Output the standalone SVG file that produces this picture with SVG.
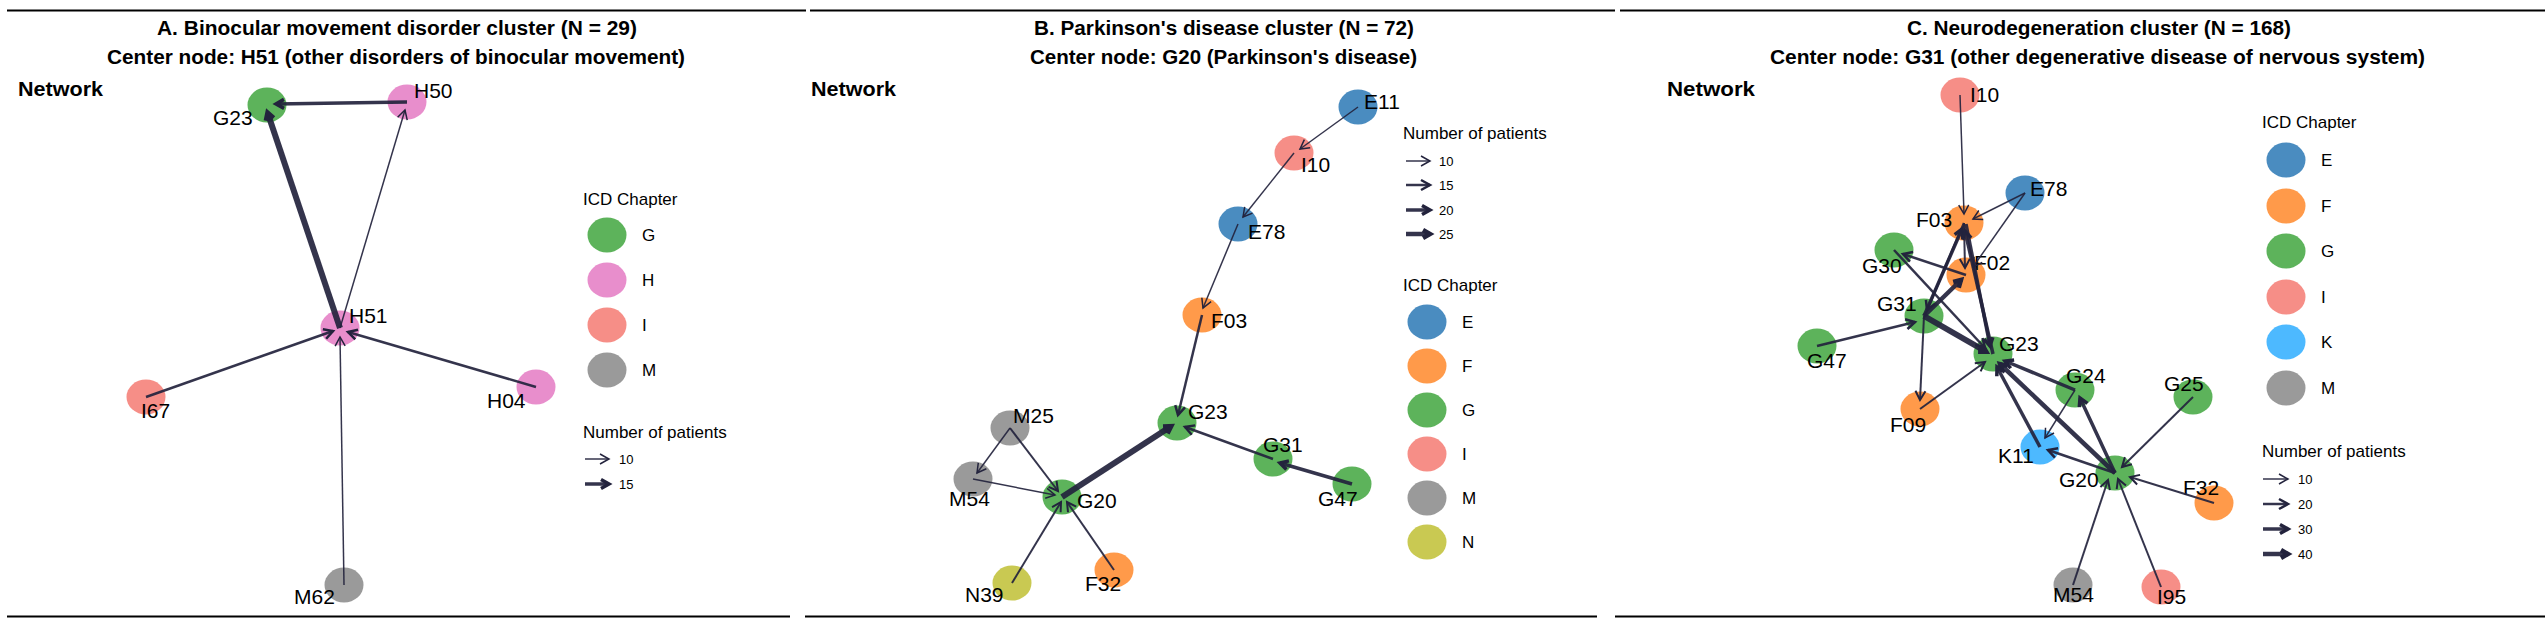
<svg xmlns="http://www.w3.org/2000/svg" width="2545" height="620" viewBox="0 0 2545 620">
<style>
.rule{stroke:#000;stroke-width:2;fill:none}
.ttl{font-family:"Liberation Sans Narrow","Liberation Sans",Arial,sans-serif;font-weight:bold;font-size:20px;fill:#000}
.lbl{font-family:"Liberation Sans",Arial,sans-serif;font-size:21px;fill:#000}
.lg{font-family:"Liberation Sans",Arial,sans-serif;font-size:17px;fill:#000}
.lgs{font-family:"Liberation Sans",Arial,sans-serif;font-size:13px;fill:#000}
.E{fill:#4a8cc0}.F{fill:#ff9a4a}.G{fill:#5db35b}.H{fill:#e88ecc}.I{fill:#f68e87}.K{fill:#4db9ff}.M{fill:#9a9a9a}.N{fill:#c9c952}
.e{stroke:#23233d;stroke-opacity:0.92;fill:none}
.w1{stroke-width:1.5;marker-end:url(#m1)}
.w2{stroke-width:2;marker-end:url(#m2)}
.w3{stroke-width:2.5;marker-end:url(#m3)}
.w4{stroke-width:3.5;marker-end:url(#m4)}
.w5{stroke-width:4.5;marker-end:url(#m5)}
.w6{stroke-width:6;marker-end:url(#m6)}
.ah{fill:none;stroke:#23233d;stroke-linejoin:miter}
</style>
<defs>
<marker id="m1" markerUnits="userSpaceOnUse" orient="auto" refX="0" refY="0" markerWidth="20" markerHeight="20" style="overflow:visible"><path class="ah" d="M-9,-5 L0,0 L-9,5" stroke-width="1.5"/></marker>
<marker id="m2" markerUnits="userSpaceOnUse" orient="auto" refX="0" refY="0" markerWidth="20" markerHeight="20" style="overflow:visible"><path class="ah" d="M-9,-5 L0,0 L-9,5" stroke-width="2"/></marker>
<marker id="m3" markerUnits="userSpaceOnUse" orient="auto" refX="0" refY="0" markerWidth="20" markerHeight="20" style="overflow:visible"><path class="ah" d="M-9,-5 L0,0 L-9,5" stroke-width="2.5"/></marker>
<marker id="m4" markerUnits="userSpaceOnUse" orient="auto" refX="0" refY="0" markerWidth="20" markerHeight="20" style="overflow:visible"><path class="ah" d="M-8,-4.5 L0,0 L-8,4.5" stroke-width="3.5"/></marker>
<marker id="m5" markerUnits="userSpaceOnUse" orient="auto" refX="0" refY="0" markerWidth="20" markerHeight="20" style="overflow:visible"><path class="ah" d="M-7,-4 L0,0 L-7,4" stroke-width="4.5"/></marker>
<marker id="m6" markerUnits="userSpaceOnUse" orient="auto" refX="0" refY="0" markerWidth="20" markerHeight="20" style="overflow:visible"><path class="ah" d="M-6,-3.5 L0,0 L-6,3.5" stroke-width="6"/></marker>
</defs>
<rect width="2545" height="620" fill="#fff"/>

<g id="frame">
<line class="rule" x1="7" y1="10.5" x2="806" y2="10.5"/>
<line class="rule" x1="810" y1="10.5" x2="1615" y2="10.5"/>
<line class="rule" x1="1620" y1="10.5" x2="2545" y2="10.5"/>
<line class="rule" x1="7" y1="616.5" x2="790" y2="616.5"/>
<line class="rule" x1="805" y1="616.5" x2="1597" y2="616.5"/>
<line class="rule" x1="1615" y1="616.5" x2="2545" y2="616.5"/>
</g>

<g id="titles">
<text class="ttl" x="157" y="35" textLength="480" lengthAdjust="spacingAndGlyphs">A. Binocular movement disorder cluster (N = 29)</text>
<text class="ttl" x="107" y="64" textLength="578" lengthAdjust="spacingAndGlyphs">Center node: H51 (other disorders of binocular movement)</text>
<text class="ttl" x="18" y="96" textLength="85" lengthAdjust="spacingAndGlyphs">Network</text>
<text class="ttl" x="1034" y="35" textLength="380" lengthAdjust="spacingAndGlyphs">B. Parkinson's disease cluster (N = 72)</text>
<text class="ttl" x="1030" y="64" textLength="387" lengthAdjust="spacingAndGlyphs">Center node: G20 (Parkinson's disease)</text>
<text class="ttl" x="811" y="96" textLength="85" lengthAdjust="spacingAndGlyphs">Network</text>
<text class="ttl" x="1907" y="35" textLength="384" lengthAdjust="spacingAndGlyphs">C. Neurodegeneration cluster (N = 168)</text>
<text class="ttl" x="1770" y="64" textLength="655" lengthAdjust="spacingAndGlyphs">Center node: G31 (other degenerative disease of nervous system)</text>
<text class="ttl" x="1667" y="96" textLength="88" lengthAdjust="spacingAndGlyphs">Network</text>
</g>

<!-- Panel A nodes -->
<g id="a-G23"><ellipse class="G" cx="267" cy="105" rx="19.5" ry="17.5"/><text class="lbl" x="213" y="125">G23</text></g>
<g id="a-H50"><ellipse class="H" cx="407" cy="102" rx="19.5" ry="17.5"/><text class="lbl" x="414" y="98">H50</text></g>
<g id="a-H51"><ellipse class="H" cx="340" cy="328" rx="19.5" ry="17.5"/><text class="lbl" x="349" y="323">H51</text></g>
<g id="a-I67"><ellipse class="I" cx="146" cy="397" rx="19.5" ry="17.5"/><text class="lbl" x="141" y="418">I67</text></g>
<g id="a-H04"><ellipse class="H" cx="536" cy="387" rx="19.5" ry="17.5"/><text class="lbl" x="487" y="408">H04</text></g>
<g id="a-M62"><ellipse class="M" cx="344" cy="585" rx="19.5" ry="17.5"/><text class="lbl" x="294" y="604">M62</text></g>

<!-- Panel A legend -->
<g id="a-legend">
<text class="lg" x="583" y="205">ICD Chapter</text>
<ellipse class="G" cx="607" cy="235" rx="19.5" ry="17.5"/><text class="lg" x="642" y="241">G</text>
<ellipse class="H" cx="607" cy="280" rx="19.5" ry="17.5"/><text class="lg" x="642" y="286">H</text>
<ellipse class="I" cx="607" cy="325" rx="19.5" ry="17.5"/><text class="lg" x="642" y="331">I</text>
<ellipse class="M" cx="607" cy="370" rx="19.5" ry="17.5"/><text class="lg" x="642" y="376">M</text>
<text class="lg" x="583" y="438">Number of patients</text>
<line class="e w1" x1="585" y1="459" x2="609" y2="459"/><text class="lgs" x="619" y="464">10</text>
<line class="e w4" x1="585" y1="484" x2="609" y2="484"/><text class="lgs" x="619" y="489">15</text>
</g>

<!-- Panel B nodes -->
<g id="b-E11"><ellipse class="E" cx="1358" cy="107" rx="19.5" ry="17.5"/><text class="lbl" x="1364" y="109">E11</text></g>
<g id="b-I10"><ellipse class="I" cx="1294" cy="153" rx="19.5" ry="17.5"/><text class="lbl" x="1301" y="172">I10</text></g>
<g id="b-E78"><ellipse class="E" cx="1238" cy="224" rx="19.5" ry="17.5"/><text class="lbl" x="1248" y="239">E78</text></g>
<g id="b-F03"><ellipse class="F" cx="1202" cy="315" rx="19.5" ry="17.5"/><text class="lbl" x="1211" y="328">F03</text></g>
<g id="b-G23"><ellipse class="G" cx="1177" cy="423" rx="19.5" ry="17.5"/><text class="lbl" x="1188" y="419">G23</text></g>
<g id="b-M25"><ellipse class="M" cx="1010" cy="428" rx="19.5" ry="17.5"/><text class="lbl" x="1013" y="423">M25</text></g>
<g id="b-M54"><ellipse class="M" cx="973" cy="479" rx="19.5" ry="17.5"/><text class="lbl" x="949" y="506">M54</text></g>
<g id="b-G20"><ellipse class="G" cx="1062" cy="497" rx="19.5" ry="17.5"/><text class="lbl" x="1077" y="508">G20</text></g>
<g id="b-G31"><ellipse class="G" cx="1273" cy="459" rx="19.5" ry="17.5"/><text class="lbl" x="1263" y="452">G31</text></g>
<g id="b-G47"><ellipse class="G" cx="1352" cy="484" rx="19.5" ry="17.5"/><text class="lbl" x="1318" y="506">G47</text></g>
<g id="b-N39"><ellipse class="N" cx="1012" cy="583" rx="19.5" ry="17.5"/><text class="lbl" x="965" y="602">N39</text></g>
<g id="b-F32"><ellipse class="F" cx="1114" cy="570" rx="19.5" ry="17.5"/><text class="lbl" x="1085" y="591">F32</text></g>

<!-- Panel B legend -->
<g id="b-legend">
<text class="lg" x="1403" y="139">Number of patients</text>
<line class="e w1" x1="1406" y1="161" x2="1430" y2="161"/><text class="lgs" x="1439" y="166">10</text>
<line class="e w3" x1="1406" y1="185" x2="1430" y2="185"/><text class="lgs" x="1439" y="190">15</text>
<line class="e w4" x1="1406" y1="210" x2="1430" y2="210"/><text class="lgs" x="1439" y="215">20</text>
<line class="e w5" x1="1406" y1="234" x2="1430" y2="234"/><text class="lgs" x="1439" y="239">25</text>
<text class="lg" x="1403" y="291">ICD Chapter</text>
<ellipse class="E" cx="1427" cy="322" rx="19.5" ry="17.5"/><text class="lg" x="1462" y="328">E</text>
<ellipse class="F" cx="1427" cy="366" rx="19.5" ry="17.5"/><text class="lg" x="1462" y="372">F</text>
<ellipse class="G" cx="1427" cy="410" rx="19.5" ry="17.5"/><text class="lg" x="1462" y="416">G</text>
<ellipse class="I" cx="1427" cy="454" rx="19.5" ry="17.5"/><text class="lg" x="1462" y="460">I</text>
<ellipse class="M" cx="1427" cy="498" rx="19.5" ry="17.5"/><text class="lg" x="1462" y="504">M</text>
<ellipse class="N" cx="1427" cy="542" rx="19.5" ry="17.5"/><text class="lg" x="1462" y="548">N</text>
</g>

<!-- Panel C nodes -->
<g id="c-I10"><ellipse class="I" cx="1960" cy="95" rx="19.5" ry="17.5"/><text class="lbl" x="1970" y="102">I10</text></g>
<g id="c-E78"><ellipse class="E" cx="2025" cy="193" rx="19.5" ry="17.5"/><text class="lbl" x="2030" y="196">E78</text></g>
<g id="c-F03"><ellipse class="F" cx="1964" cy="223" rx="19.5" ry="17.5"/><text class="lbl" x="1916" y="227">F03</text></g>
<g id="c-G30"><ellipse class="G" cx="1894" cy="250" rx="19.5" ry="17.5"/><text class="lbl" x="1862" y="273">G30</text></g>
<g id="c-F02"><ellipse class="F" cx="1966" cy="275" rx="19.5" ry="17.5"/><text class="lbl" x="1974" y="270">F02</text></g>
<g id="c-G31"><ellipse class="G" cx="1924" cy="316" rx="19.5" ry="17.5"/><text class="lbl" x="1877" y="311">G31</text></g>
<g id="c-G23"><ellipse class="G" cx="1993" cy="354" rx="19.5" ry="17.5"/><text class="lbl" x="1999" y="351">G23</text></g>
<g id="c-G47"><ellipse class="G" cx="1817" cy="346" rx="19.5" ry="17.5"/><text class="lbl" x="1807" y="368">G47</text></g>
<g id="c-F09"><ellipse class="F" cx="1920" cy="409" rx="19.5" ry="17.5"/><text class="lbl" x="1890" y="432">F09</text></g>
<g id="c-G24"><ellipse class="G" cx="2075" cy="390" rx="19.5" ry="17.5"/><text class="lbl" x="2066" y="383">G24</text></g>
<g id="c-G25"><ellipse class="G" cx="2193" cy="397" rx="19.5" ry="17.5"/><text class="lbl" x="2164" y="391">G25</text></g>
<g id="c-K11"><ellipse class="K" cx="2040" cy="447" rx="19.5" ry="17.5"/><text class="lbl" x="1998" y="463">K11</text></g>
<g id="c-G20"><ellipse class="G" cx="2115" cy="473" rx="19.5" ry="17.5"/><text class="lbl" x="2059" y="487">G20</text></g>
<g id="c-F32"><ellipse class="F" cx="2214" cy="503" rx="19.5" ry="17.5"/><text class="lbl" x="2183" y="495">F32</text></g>
<g id="c-M54"><ellipse class="M" cx="2073" cy="585" rx="19.5" ry="17.5"/><text class="lbl" x="2053" y="602">M54</text></g>
<g id="c-I95"><ellipse class="I" cx="2161" cy="587" rx="19.5" ry="17.5"/><text class="lbl" x="2157" y="604">I95</text></g>

<!-- Panel C legend -->
<g id="c-legend">
<text class="lg" x="2262" y="128">ICD Chapter</text>
<ellipse class="E" cx="2286" cy="160" rx="19.5" ry="17.5"/><text class="lg" x="2321" y="166">E</text>
<ellipse class="F" cx="2286" cy="206" rx="19.5" ry="17.5"/><text class="lg" x="2321" y="212">F</text>
<ellipse class="G" cx="2286" cy="251" rx="19.5" ry="17.5"/><text class="lg" x="2321" y="257">G</text>
<ellipse class="I" cx="2286" cy="297" rx="19.5" ry="17.5"/><text class="lg" x="2321" y="303">I</text>
<ellipse class="K" cx="2286" cy="342" rx="19.5" ry="17.5"/><text class="lg" x="2321" y="348">K</text>
<ellipse class="M" cx="2286" cy="388" rx="19.5" ry="17.5"/><text class="lg" x="2321" y="394">M</text>
<text class="lg" x="2262" y="457">Number of patients</text>
<line class="e w1" x1="2263" y1="479" x2="2288" y2="479"/><text class="lgs" x="2298" y="484">10</text>
<line class="e w3" x1="2263" y1="504" x2="2288" y2="504"/><text class="lgs" x="2298" y="509">20</text>
<line class="e w4" x1="2263" y1="529" x2="2288" y2="529"/><text class="lgs" x="2298" y="534">30</text>
<line class="e w5" x1="2263" y1="554" x2="2288" y2="554"/><text class="lgs" x="2298" y="559">40</text>
</g>

<g id="connectors">
<!-- A -->
<line class="e w6" x1="340" y1="328" x2="268" y2="114"/>
<line class="e w4" x1="407" y1="102" x2="276" y2="104"/>
<line class="e w1" x1="340" y1="328" x2="405" y2="110"/>
<line class="e w3" x1="146" y1="397" x2="333" y2="331"/>
<line class="e w3" x1="536" y1="387" x2="348" y2="332"/>
<line class="e w1" x1="344" y1="585" x2="340" y2="337"/>
<!-- B -->
<line class="e w1" x1="1358" y1="107" x2="1300" y2="149"/>
<line class="e w1" x1="1294" y1="153" x2="1243" y2="217"/>
<line class="e w1" x1="1238" y1="224" x2="1203" y2="308"/>
<line class="e w3" x1="1202" y1="315" x2="1178" y2="415"/>
<line class="e w6" x1="1062" y1="497" x2="1170" y2="427"/>
<line class="e w3" x1="1273" y1="459" x2="1185" y2="427"/>
<line class="e w4" x1="1352" y1="484" x2="1280" y2="463"/>
<line class="e w1" x1="1010" y1="428" x2="977" y2="473"/>
<line class="e w2" x1="1010" y1="428" x2="1058" y2="491"/>
<line class="e w1" x1="973" y1="479" x2="1055" y2="495"/>
<line class="e w2" x1="1012" y1="583" x2="1061" y2="502"/>
<line class="e w2" x1="1114" y1="570" x2="1067" y2="502"/>
<!-- C -->
<line class="e w1" x1="1960" y1="95" x2="1964" y2="214"/>
<line class="e w1" x1="2025" y1="193" x2="1973" y2="219"/>
<line class="e w1" x1="2025" y1="193" x2="1973" y2="267"/>
<line class="e w2" x1="1964" y1="223" x2="1965" y2="268"/>
<line class="e w4" x1="1924" y1="316" x2="1962" y2="229"/>
<line class="e w4" x1="1993" y1="354" x2="1965" y2="231"/>
<line class="e w4" x1="1966" y1="224" x2="1990" y2="346"/>
<line class="e w3" x1="1966" y1="275" x2="1903" y2="254"/>
<line class="e w3" x1="1894" y1="250" x2="1985" y2="348"/>
<line class="e w5" x1="1924" y1="316" x2="1961" y2="280"/>
<line class="e w3" x1="1964" y1="223" x2="1927" y2="310"/>
<line class="e w3" x1="1817" y1="346" x2="1915" y2="322"/>
<line class="e w6" x1="1924" y1="316" x2="1985" y2="351"/>
<line class="e w2" x1="1924" y1="316" x2="1920" y2="400"/>
<line class="e w2" x1="1920" y1="409" x2="1985" y2="362"/>
<line class="e w4" x1="2075" y1="390" x2="2005" y2="361"/>
<line class="e w5" x1="2115" y1="473" x2="2000" y2="364"/>
<line class="e w4" x1="2040" y1="447" x2="1997" y2="367"/>
<line class="e w1" x1="2075" y1="390" x2="2045" y2="438"/>
<line class="e w4" x1="2115" y1="473" x2="2080" y2="398"/>
<line class="e w3" x1="2115" y1="473" x2="2048" y2="450"/>
<line class="e w2" x1="2193" y1="397" x2="2122" y2="467"/>
<line class="e w2" x1="2214" y1="503" x2="2130" y2="477"/>
<line class="e w2" x1="2073" y1="585" x2="2108" y2="480"/>
<line class="e w2" x1="2161" y1="587" x2="2118" y2="479"/>
</g>
</svg>
